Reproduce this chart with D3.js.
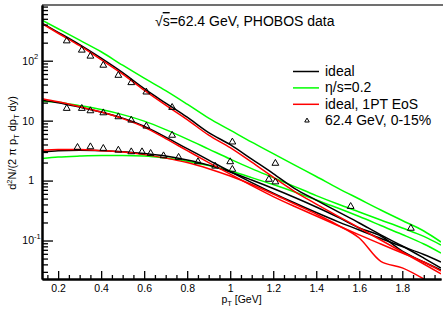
<!DOCTYPE html>
<html>
<head>
<meta charset="utf-8">
<script src="https://cdnjs.cloudflare.com/ajax/libs/d3/7.8.5/d3.min.js"></script>
<style>
body { margin:0; background:#fff; }
svg { font-family: "Liberation Sans", Arial, sans-serif; }
</style>
</head>
<body>
<div id="chart-area"></div>
<script>
/*
*    pT spectra at 62.4 GeV: hydro curves vs PHOBOS data
*/

// common pT grid [GeV] for the model curves
var ptGrid = [0.125, 0.2, 0.3, 0.4, 0.5, 0.6, 0.7, 0.8, 0.9, 1.0, 1.1, 1.2, 1.3, 1.4, 1.5, 1.6, 1.7, 1.8, 1.9, 1.98];

var pionIdeal = [422, 298, 185, 110, 63.1, 34.1, 19.6, 11.4, 6.31, 3.98, 2.28, 1.31, 0.736, 0.473, 0.304, 0.196, 0.124, 0.081, 0.051, 0.0348];
var pionVisc  = [473, 341, 220, 141, 84.1, 51.1, 31.6, 18.8, 11.0, 6.95, 4.38, 2.82, 1.81, 1.17, 0.75, 0.492, 0.323, 0.216, 0.144, 0.0944];
var pion1PT   = [414, 287, 178, 104, 59.6, 32.2, 18.1, 10.4, 5.73, 3.55, 2.03, 1.14, 0.655, 0.406, 0.256, 0.162, 0.102, 0.0643, 0.0406, 0.0277];

var kaonIdeal = [21.9, 19.95, 16.8, 13.9, 11.0, 8.1, 5.31, 3.41, 2.2, 1.41, 0.926, 0.619, 0.422, 0.293, 0.207, 0.15, 0.108, 0.0794, 0.0584, 0.0438];
var kaonVisc  = [21.1, 20.3, 17.8, 15.3, 12.6, 9.81, 7.08, 4.92, 3.35, 2.28, 1.58, 1.12, 0.794, 0.562, 0.406, 0.299, 0.22, 0.162, 0.117, 0.0841];
var kaon1PT   = [23.3, 20.7, 17.1, 13.9, 10.8, 7.79, 5.01, 3.16, 2.0, 1.28, 0.825, 0.541, 0.369, 0.256, 0.178, 0.124, 0.0874, 0.0619, 0.0438, 0.031];

var protonIdeal = [3.02, 3.16, 3.22, 3.16, 3.04, 2.82, 2.56, 2.2, 1.81, 1.39, 1.02, 0.736, 0.521, 0.362, 0.246, 0.162, 0.119, 0.0668, 0.0438, 0.0322];
var protonVisc  = [2.34, 2.47, 2.56, 2.61, 2.61, 2.56, 2.37, 2.11, 1.78, 1.44, 1.12, 0.858, 0.643, 0.473, 0.348, 0.251, 0.178, 0.126, 0.0874, 0.0619];
var proton1PT   = [3.22, 3.29, 3.29, 3.16, 2.99, 2.71, 2.37, 2.0, 1.58, 1.19, 0.858, 0.596, 0.406, 0.276, 0.181, 0.11, 0.045, 0.035, 0.0228, 0.015];

// PHOBOS 62.4 GeV, 0-15%
var pionPt   = [0.24, 0.31, 0.35, 0.41, 0.48, 0.54, 0.61, 0.73, 1.01, 1.21, 1.56, 1.84];
var pionData = [214, 150, 119, 84, 57, 43, 30, 16.6, 4.4, 1.94, 0.37, 0.16];
var kaonPt   = [0.24, 0.31, 0.35, 0.41, 0.48, 0.54, 0.61, 0.73, 1.0, 1.18];
var kaonData = [16.0, 16.0, 14.6, 13.5, 11.6, 10.2, 8.1, 5.7, 2.06, 1.05];
var protonPt   = [0.29, 0.35, 0.41, 0.48, 0.54, 0.59, 0.63, 0.69, 0.76, 0.85, 0.93, 1.01, 1.21];
var protonData = [3.57, 3.66, 3.44, 3.22, 3.02, 3.02, 2.84, 2.59, 2.44, 2.06, 1.74, 1.54, 0.95];

var legendLabels = ["ideal", "\u03b7/s=0.2", "ideal, 1PT EoS", "62.4 GeV, 0-15%"];

var xTicks = [0.2, 0.4, 0.6, 0.8, 1, 1.2, 1.4, 1.6, 1.8];
var yTicks = [0.1, 1, 10, 100];
var yTickBase = ["10", "1", "10", "10"];
var yTickExp = ["-1", "", "", "2"];

var modelColors = { ideal: "#000000", visc: "#00ff00", pt1: "#ff0000" };

SpectraChart = function(_parentElement){
    this.parentElement = _parentElement;

    this.initVis();
};

SpectraChart.prototype.initVis = function(){
    var vis = this;

    vis.margin = { left:42, right:2, top:5, bottom:30 };
    vis.width = 443 - vis.margin.left - vis.margin.right;
    vis.height = 309 - vis.margin.top - vis.margin.bottom;

    vis.x = d3.scaleLinear().domain([0.125, 1.98]).range([0, vis.width]);
    vis.y = d3.scaleLog().domain([0.0228, 850]).range([vis.height, 0]);

    vis.svg = d3.select(vis.parentElement).append("svg")
                .attr("width", vis.width + vis.margin.left + vis.margin.right)
                .attr("height", vis.height + vis.margin.top + vis.margin.bottom)
            .append("g")
                .attr("transform",
                    "translate(" + vis.margin.left + "," + vis.margin.top + ")");

    vis.svg.append("clipPath")
        .attr("id", "plot-clip")
      .append("rect")
        .attr("width", vis.width)
        .attr("height", vis.height);

    // frame top
    vis.svg.append("line")
        .attr("x1", 0).attr("x2", vis.width + 2)
        .attr("y1", 0).attr("y2", 0)
        .attr("stroke", "#707070")
        .attr("stroke-width", 2);

    vis.wrangleData();
};

SpectraChart.prototype.wrangleData = function(){
    var vis = this;

    function toPoints(xs, ys){
        return xs.map(function(d, i){ return { pt: d, v: ys[i] }; });
    }

    vis.curves = [
        { color: modelColors.visc,  points: toPoints(ptGrid, pionVisc) },
        { color: modelColors.visc,  points: toPoints(ptGrid, kaonVisc) },
        { color: modelColors.visc,  points: toPoints(ptGrid, protonVisc) },
        { color: modelColors.ideal, points: toPoints(ptGrid, pionIdeal) },
        { color: modelColors.ideal, points: toPoints(ptGrid, kaonIdeal) },
        { color: modelColors.ideal, points: toPoints(ptGrid, protonIdeal) },
        { color: modelColors.pt1,   points: toPoints(ptGrid, pion1PT) },
        { color: modelColors.pt1,   points: toPoints(ptGrid, kaon1PT) },
        { color: modelColors.pt1,   points: toPoints(ptGrid, proton1PT) }
    ];

    vis.dataPoints = toPoints(pionPt, pionData)
        .concat(toPoints(kaonPt, kaonData))
        .concat(toPoints(protonPt, protonData));

    vis.updateVis();
};

SpectraChart.prototype.updateVis = function(){
    var vis = this;
    var fs = 10.5;

    var line = d3.line()
        .x(function(d){ return vis.x(d.pt); })
        .y(function(d){ return vis.y(d.v); })
        .curve(d3.curveMonotoneX);

    vis.svg.append("g")
        .attr("clip-path", "url(#plot-clip)")
        .selectAll(".curve")
        .data(vis.curves)
        .enter().append("path")
        .attr("class", "curve")
        .attr("fill", "none")
        .attr("stroke", function(d){ return d.color; })
        .attr("stroke-width", 1.5)
        .attr("d", function(d){ return line(d.points); });

    var tri = d3.symbol().type(d3.symbolTriangle).size(20);
    vis.svg.append("g")
        .selectAll(".marker")
        .data(vis.dataPoints)
        .enter().append("path")
        .attr("class", "marker")
        .attr("transform", function(d){
            return "translate(" + vis.x(d.pt) + "," + vis.y(d.v) + ")";
        })
        .attr("d", tri)
        .attr("fill", "none")
        .attr("stroke", "#000")
        .attr("stroke-width", 1);

    // x axis, ticks point inward
    var xMinor = d3.range(3, 40).map(function(i){ return i * 0.05; })
        .filter(function(d){ return Math.abs(d / 0.2 - Math.round(d / 0.2)) > 0.01; });

    vis.svg.append("g")
        .attr("class", "x minor")
        .attr("transform", "translate(0," + vis.height + ")")
        .call(d3.axisBottom(vis.x).tickValues(xMinor).tickSize(-4).tickSizeOuter(0).tickFormat(""));

    var xAxis = vis.svg.append("g")
        .attr("class", "x axis")
        .attr("transform", "translate(0," + vis.height + ")")
        .call(d3.axisBottom(vis.x).tickValues(xTicks).tickSize(-8).tickSizeOuter(0)
            .tickPadding(5.5).tickFormat(function(d){ return String(d); }));

    xAxis.selectAll("text")
        .attr("font-size", fs)
        .attr("font-family", "Liberation Sans, Arial, sans-serif")
        .attr("fill", "#000");

    // y axis
    var yMinor = [];
    [0.01, 0.1, 1, 10, 100].forEach(function(dec){
        d3.range(2, 10).forEach(function(k){
            var v = dec * k;
            if (v > 0.0228 && v < 850) yMinor.push(v);
        });
    });

    vis.svg.append("g")
        .attr("class", "y minor")
        .call(d3.axisLeft(vis.y).tickValues(yMinor).tickSize(-6).tickSizeOuter(0).tickFormat(""));

    var yAxis = vis.svg.append("g")
        .attr("class", "y axis")
        .call(d3.axisLeft(vis.y).tickValues(yTicks).tickSize(-11).tickSizeOuter(0)
            .tickPadding(8).tickFormat(function(d, i){ return yTickBase[i]; }));

    yAxis.selectAll("text")
        .attr("font-size", fs)
        .attr("font-family", "Liberation Sans, Arial, sans-serif")
        .attr("fill", "#000");

    yAxis.selectAll(".tick").each(function(d, i){
        if (!yTickExp[i]) return;
        d3.select(this).append("text")
            .attr("x", -8)
            .attr("y", -2)
            .attr("text-anchor", "start")
            .attr("font-size", 7.5)
            .attr("font-family", "Liberation Sans, Arial, sans-serif")
            .attr("fill", "#000")
            .text(yTickExp[i]);
    });

    vis.svg.selectAll(".axis path, .minor path")
        .attr("stroke", "#000")
        .attr("stroke-width", 2);
    vis.svg.selectAll(".axis line, .minor line")
        .attr("stroke", "#000")
        .attr("stroke-width", 1.3);

    // axis titles
    var xt = vis.svg.append("text")
        .attr("x", vis.width / 2)
        .attr("y", vis.height + 24)
        .attr("text-anchor", "middle")
        .attr("font-size", fs)
        .text("p");
    xt.append("tspan").attr("dy", 3).attr("font-size", 7.5).text("T");
    xt.append("tspan").attr("dy", -3).text(" [GeV]");

    var yt = vis.svg.append("text")
        .attr("transform", "translate(-26," + (vis.height / 2 + 1) + ") rotate(-90)")
        .attr("text-anchor", "middle")
        .attr("font-size", 11)
        .text("d");
    yt.append("tspan").attr("dy", -4).attr("font-size", 7.5).text("2");
    yt.append("tspan").attr("dy", 4).text("N/(2 \u03c0 p");
    yt.append("tspan").attr("dy", 3).attr("font-size", 7.5).text("T");
    yt.append("tspan").attr("dy", -3).text(" dp");
    yt.append("tspan").attr("dy", 3).attr("font-size", 7.5).text("T");
    yt.append("tspan").attr("dy", -3).text(" dy)");

    // title
    var title = vis.svg.append("text")
        .attr("x", 113)
        .attr("y", 21)
        .attr("font-size", 14)
        .text("\u221a");
    title.append("tspan").style("text-decoration", "overline").text("s");
    title.append("tspan").text("=62.4 GeV, PHOBOS data");

    // legend
    var legend = vis.svg.append("g")
        .attr("transform", "translate(251,66.5)");

    var legendColors = [modelColors.ideal, modelColors.visc, modelColors.pt1];
    var rows = legend.selectAll(".row")
        .data(legendLabels)
        .enter().append("g")
        .attr("class", "row")
        .attr("transform", function(d, i){ return "translate(0," + (i * 16.4) + ")"; });

    rows.filter(function(d, i){ return i < 3; })
        .append("line")
        .attr("x1", 0).attr("x2", 26)
        .attr("stroke", function(d, i){ return legendColors[i]; })
        .attr("stroke-width", 1.5);

    rows.filter(function(d, i){ return i === 3; })
        .append("path")
        .attr("transform", "translate(14,0)")
        .attr("d", d3.symbol().type(d3.symbolTriangle).size(9))
        .attr("fill", "none")
        .attr("stroke", "#000")
        .attr("stroke-width", 1);

    rows.append("text")
        .attr("x", 32)
        .attr("y", 4.5)
        .attr("font-size", 14)
        .text(function(d){ return d; });
};

new SpectraChart("#chart-area");
</script>
</body>
</html>
